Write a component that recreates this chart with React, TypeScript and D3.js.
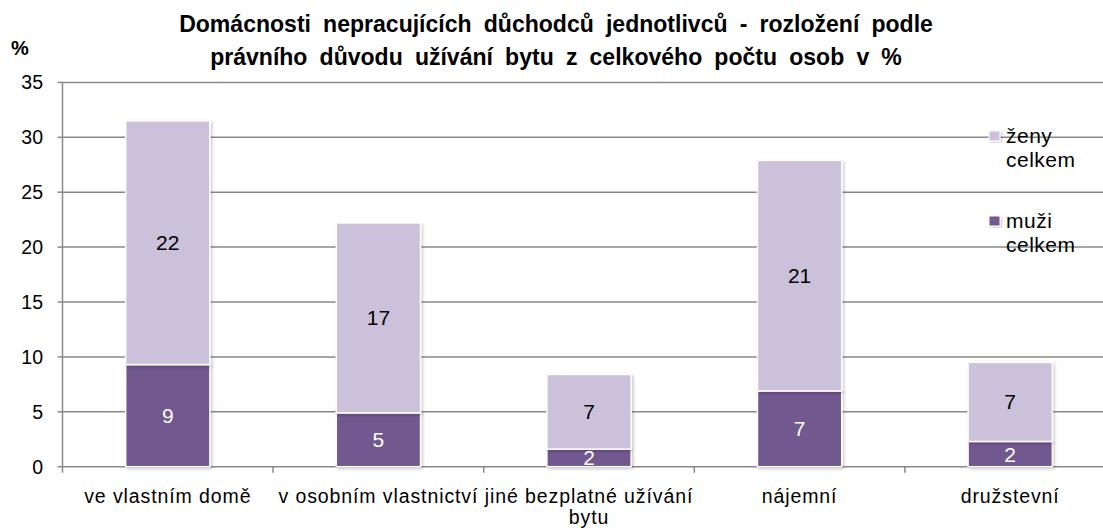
import React from "react";
import * as d3 from "d3";

const categories = [
  "ve vlastním domě",
  "v osobním vlastnictví",
  "jiné bezplatné užívání bytu",
  "nájemní",
  "družstevní",
];
const muzi = [9.3, 4.9, 1.6, 6.9, 2.3];
const zeny = [22.2, 17.3, 6.8, 21.0, 7.2];
const yTicks = [0, 5, 10, 15, 20, 25, 30, 35];
const legendItems = [
  { name: ["ženy", "celkem"], color: "#CCC1DA" },
  { name: ["muži", "celkem"], color: "#71588F" },
];
const titleLines = [
  "Domácnosti nepracujících důchodců jednotlivců - rozložení podle",
  "právního důvodu užívání bytu z celkového počtu osob v %",
];

// label wrapping as in the original picture
const catLines: Record<string, string[]> = {
  "jiné bezplatné užívání bytu": ["jiné bezplatné užívání", "bytu"],
};

export default function App() {
  const width = 1103;
  const height = 528;
  const left = 62.5;
  const right = 1115.5;
  const top = 82.4;
  const bottom = 466.7;
  const font = "'Liberation Sans', Arial, sans-serif";

  const x = d3
    .scaleBand()
    .domain(categories)
    .range([left, right])
    .paddingInner(0.6)
    .paddingOuter(0.3);
  const y = d3.scaleLinear().domain([0, 35]).range([bottom, top]);

  const stacked = d3
    .stack<number>()
    .keys(["muzi", "zeny"])
    .value((i, k) => (k === "muzi" ? muzi[i] : zeny[i]))(d3.range(categories.length));

  const step = x.step();
  const cx = (c: string) => (x(c) as number) + x.bandwidth() / 2;

  return (
    <svg
      width={width}
      height={height}
      style={{ display: "block", position: "absolute", left: 0, top: 0 }}
    >
      <defs>
        <filter id="shadow" x="-20%" y="-20%" width="140%" height="140%">
          <feDropShadow dx="1.5" dy="1.5" stdDeviation="1.5" floodColor="#000" floodOpacity="0.22" />
        </filter>
      </defs>
      <rect width={width} height={height} fill="#fff" />

      {/* title - glyphs are slightly narrow in the original */}
      {titleLines.map((t, i) => (
        <text
          key={i}
          transform={`translate(556, ${32 + i * 32.5}) scale(0.96, 1)`}
          textAnchor="middle"
          fontFamily={font}
          fontWeight="bold"
          fontSize={24}
          wordSpacing={6}
        >
          {t}
        </text>
      ))}
      <text x={11} y={55} fontFamily={font} fontWeight="bold" fontSize={20}>
        %
      </text>

      {/* gridlines + y ticks */}
      {yTicks.map((t) => (
        <g key={t}>
          <line x1={left} x2={right} y1={y(t)} y2={y(t)} stroke="#888" strokeWidth={1.5} />
          <line x1={left - 5} x2={left} y1={y(t)} y2={y(t)} stroke="#888" strokeWidth={1.5} />
          <text
            x={43}
            y={y(t)}
            dy="0.36em"
            textAnchor="end"
            fontFamily={font}
            fontSize={19.5}
            fill="#000"
          >
            {t}
          </text>
        </g>
      ))}
      <line x1={left} x2={left} y1={top} y2={bottom} stroke="#888" strokeWidth={1.5} />
      {d3.range(categories.length + 1).map((i) => (
        <line
          key={i}
          x1={left + i * step}
          x2={left + i * step}
          y1={bottom}
          y2={bottom + 6}
          stroke="#888"
          strokeWidth={1.5}
        />
      ))}

      {/* bars */}
      {stacked.map((s, si) => (
        <g key={s.key}>
          {s.map((d, i) => (
            <rect
              key={i}
              x={x(categories[i])}
              y={y(d[1])}
              width={x.bandwidth()}
              height={y(d[0]) - y(d[1])}
              fill={legendItems[1 - si].color}
              stroke="#fff"
              strokeWidth={1.5}
              filter="url(#shadow)"
            />
          ))}
        </g>
      ))}

      {/* data labels */}
      {stacked.map((s, si) =>
        s.map((d, i) => (
          <text
            key={s.key + i}
            x={cx(categories[i])}
            y={(y(d[0]) + y(d[1])) / 2}
            dy="0.36em"
            textAnchor="middle"
            fontFamily={font}
            fontSize={21}
            fill={si === 0 ? "#fff" : "#000"}
          >
            {Math.round(d[1] - d[0])}
          </text>
        ))
      )}

      {/* category labels */}
      {categories.map((c) => (
        <text
          key={c}
          x={cx(c)}
          y={503}
          textAnchor="middle"
          fontFamily={font}
          fontSize={19.5}
          letterSpacing={0.9}
        >
          {(catLines[c] || [c]).map((l, j) => (
            <tspan key={j} x={cx(c)} dy={j === 0 ? 0 : 21}>
              {l}
            </tspan>
          ))}
        </text>
      ))}

      {/* legend */}
      {legendItems.map((l, i) => (
        <g key={i} transform={`translate(989, ${131 + i * 85})`}>
          <rect width={11} height={10} fill={l.color} stroke="#fff" strokeWidth={1} filter="url(#shadow)" />
          {l.name.map((n, j) => (
            <text key={j} x={17} y={12 + j * 24} fontFamily={font} fontSize={21} letterSpacing={0.5}>
              {n}
            </text>
          ))}
        </g>
      ))}
    </svg>
  );
}
